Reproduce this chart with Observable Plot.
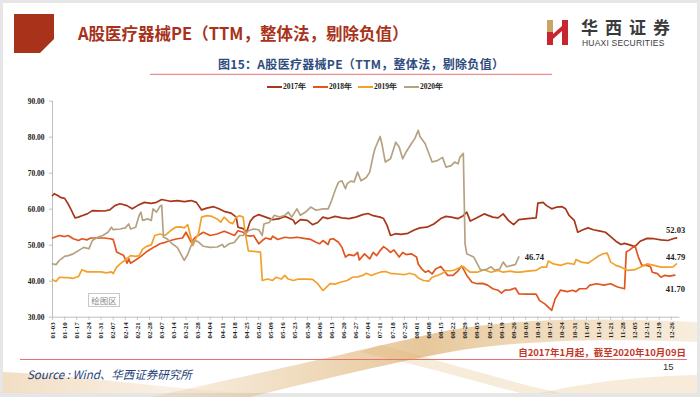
<!DOCTYPE html>
<html><head><meta charset="utf-8">
<script src="https://cdn.jsdelivr.net/npm/d3@7"></script>
<script src="https://cdn.jsdelivr.net/npm/@observablehq/plot@0.6"></script>
<style>
html,body{margin:0;padding:0;background:#e6e6e6;}
#page{position:relative;width:700px;height:397px;overflow:hidden;background:#e6e6e6;font-family:"Noto Sans CJK SC","Noto Sans",sans-serif;}
#slide{position:absolute;left:3px;top:3px;width:694px;height:390px;background:#fff;}
.abs{position:absolute;white-space:nowrap;}
#chart{position:absolute;left:0;top:0;}
.leg{position:absolute;top:82px;height:10px;font-family:"Liberation Serif",serif;font-weight:bold;font-size:7.5px;color:#222;line-height:10px;white-space:nowrap;}
.leg i{position:absolute;top:4px;height:2px;width:15px;}
.leg span{white-space:nowrap;}
</style></head><body>
<div id="page">
  <div id="slide"></div>
  <svg class="abs" style="left:0;top:0" width="700" height="397">
    <defs>
      <linearGradient id="g1" x1="0" x2="1" y1="0" y2="0">
        <stop offset="0" stop-color="#d9a45a" stop-opacity="0.15"/>
        <stop offset="0.5" stop-color="#d39a48" stop-opacity="0.55"/>
        <stop offset="1" stop-color="#e3b97a" stop-opacity="0.25"/>
      </linearGradient>
      <linearGradient id="g2" x1="0" x2="1" y1="0" y2="0">
        <stop offset="0" stop-color="#e2b57a" stop-opacity="0.45"/>
        <stop offset="1" stop-color="#e8c495" stop-opacity="0.15"/>
      </linearGradient>
    </defs>
    <path d="M150 397 C 300 365, 380 345, 450 330 C 520 318, 600 318, 697 322 L 697 342 C 600 338, 520 340, 450 352 C 380 365, 300 385, 250 397 Z" fill="url(#g1)"/>
    <path d="M3 372 C 80 376, 170 388, 240 393 L 3 393 Z" fill="url(#g2)"/>
    <path d="M380 345 C 440 360, 500 380, 560 393 L 520 393 C 470 380, 420 365, 360 352 Z" fill="#e0b06a" fill-opacity="0.25"/>
    <path d="M540 393 C 600 380, 650 376, 697 375 L 697 393 Z" fill="#e6bd85" fill-opacity="0.3"/>
    <path d="M14 14 L54 14 L54 39 L40 53 L14 53 Z" fill="#a8321a"/>
    <rect x="547" y="20" width="6" height="12" fill="#c9a467"/>
    <rect x="547" y="32" width="6" height="13" fill="#c8262e"/>
    <rect x="562" y="20" width="6" height="25" fill="#c8262e"/>
    <path d="M553 34 L562 26 L562 31 L553 39 Z" fill="#c8262e"/>
    <line x1="150" x2="552" y1="74.3" y2="74.3" stroke="#e57373" stroke-width="1"/>
    <line x1="20" x2="687" y1="359.5" y2="359.5" stroke="#e57373" stroke-width="1"/>
  </svg>
  <div id="chart"></div>
  <div class="abs" style="left:78px;top:21px;font-size:16.5px;font-weight:700;color:#a8321a;line-height:24px;">A股医疗器械PE（TTM，整体法，剔除负值）</div>
  <div class="abs" style="left:581px;top:18px;font-family:'Noto Sans CJK SC';font-size:17px;font-weight:700;color:#3a3a3a;letter-spacing:7px;line-height:18px;">华西证券</div>
  <div class="abs" style="left:582px;top:38px;font-family:'Liberation Sans',sans-serif;font-size:8.5px;color:#3a3a3a;letter-spacing:0.2px;line-height:10px;">HUAXI SECURITIES</div>
  <div class="abs" style="left:218px;top:55px;font-size:12px;font-weight:700;color:#2e4c7e;letter-spacing:0.3px;line-height:18px;">图15：A股医疗器械PE（TTM，整体法，剔除负值）</div>
  <div id="legend"></div>
  <div class="abs" style="left:88px;top:293px;width:30px;height:12px;border:1px solid #c8c8c8;background:#fff;color:#8a8a8a;font-size:8.5px;line-height:12px;text-align:center;">绘图区</div>
  <div class="abs" style="right:14px;top:345px;font-size:9.5px;font-weight:700;color:#c0392b;line-height:14px;">自2017年1月起，截至2020年10月09日</div>
  <div class="abs" style="left:663px;top:361px;font-family:'Liberation Sans',sans-serif;font-size:9.5px;color:#333;line-height:12px;">15</div>
  <div class="abs" style="left:27px;top:366px;font-size:11.5px;font-style:italic;color:#1f3f7a;line-height:16px;">Source : Wind、华西证券研究所</div>
</div>
<script>
// ---- data (day of year, PE) ----
const tickLabels = ["01-03","01-10","01-17","01-24","01-31","02-07","02-14","02-21","02-28","03-07","03-14","03-21","03-28","04-04","04-11","04-18","04-25","05-02","05-09","05-16","05-23","05-30","06-06","06-13","06-20","06-27","07-04","07-11","07-18","07-25","08-01","08-08","08-15","08-22","08-29","09-05","09-12","09-19","09-26","10-03","10-10","10-17","10-24","10-31","11-07","11-14","11-21","11-28","12-05","12-12","12-19","12-26"];
const yTicks = [30,40,50,60,70,80,90];
const years = ["2017年","2018年","2019年","2020年"];
const colors = ["#a8361b","#e0561e","#f2a12b","#b5a283"];

const pe2017 = [[3,63.8],[4,64.3],[6,63.8],[8,63.2],[10,63.0],[12,61.5],[14,59.6],[16,57.6],[18,57.8],[20,58.2],[23,58.7],[26,59.6],[33,59.5],[36,59.8],[39,61.0],[42,61.5],[46,61.0],[49,60.1],[52,61.0],[56,61.9],[60,61.6],[63,61.9],[66,62.7],[71,62.2],[75,62.4],[79,62.1],[83,62.4],[86,61.9],[89,59.8],[92,60.3],[96,60.7],[99,60.1],[102,59.4],[106,58.9],[109,57.8],[110,55.0],[113,54.6],[115,53.6],[117,56.6],[119,57.8],[122,58.5],[126,57.8],[130,57.1],[134,57.4],[137,58.0],[139,57.6],[142,56.9],[143,55.9],[146,57.1],[150,56.9],[153,55.7],[156,56.3],[159,57.8],[162,57.4],[166,58.0],[170,57.6],[174,57.4],[178,57.8],[182,58.5],[185,58.8],[188,58.2],[192,57.8],[194,57.4],[196,55.5],[198,52.7],[201,53.2],[204,53.0],[208,53.3],[212,54.3],[215,54.8],[219,55.0],[223,55.9],[227,57.4],[230,58.0],[233,57.8],[237,57.4],[240,58.2],[242,59.2],[244,56.7],[247,57.4],[252,58.7],[257,57.8],[260,57.6],[263,58.7],[266,56.9],[269,55.7],[272,57.1],[277,57.4],[282,57.6],[283,61.7],[286,61.9],[288,61.0],[291,60.1],[294,60.6],[297,60.7],[299,60.1],[301,58.3],[304,56.9],[306,53.6],[309,54.3],[312,54.8],[315,54.3],[319,53.9],[322,53.6],[325,52.4],[328,51.1],[331,50.2],[333,50.5],[336,50.1],[339,49.6],[342,51.1],[346,51.9],[350,51.8],[354,51.5],[358,51.3],[361,51.8],[363,52.03]];

const pe2018 = [[3,52.0],[7,52.7],[10,52.4],[12,52.7],[15,51.8],[18,51.3],[20,51.8],[23,51.5],[25,52.0],[33,52.0],[36,51.8],[38,51.6],[39,49.9],[40,48.1],[42,47.6],[44,47.2],[46,45.0],[47,46.2],[48,45.0],[51,45.9],[54,46.9],[57,48.1],[60,49.0],[62,49.6],[65,50.4],[68,50.8],[71,51.3],[75,51.8],[78,52.0],[80,53.6],[81,52.7],[83,50.8],[85,52.0],[87,52.7],[90,53.6],[94,52.7],[98,53.1],[102,53.9],[105,53.3],[108,52.7],[110,54.0],[113,53.6],[115,52.7],[117,52.5],[119,52.7],[122,50.4],[124,51.3],[126,52.0],[129,51.6],[130,52.5],[133,51.6],[137,52.2],[140,52.0],[144,52.2],[148,51.9],[152,51.6],[155,50.8],[157,50.4],[159,51.3],[162,50.2],[163,51.6],[165,51.8],[168,50.8],[170,49.4],[172,46.7],[174,47.4],[177,47.1],[179,48.0],[180,45.9],[183,47.6],[186,46.2],[188,48.0],[190,47.1],[192,48.5],[194,49.6],[196,48.9],[198,48.0],[200,48.7],[203,46.7],[205,48.0],[207,47.4],[210,47.6],[213,46.7],[214,44.8],[216,43.4],[218,42.5],[220,42.9],[222,42.0],[224,43.4],[227,44.1],[229,42.9],[231,41.6],[234,41.6],[237,42.9],[239,44.2],[240,43.4],[242,41.6],[245,39.7],[248,39.3],[251,39.4],[254,38.9],[257,37.9],[260,37.5],[262,36.7],[264,37.5],[267,37.6],[270,38.1],[272,36.5],[277,36.4],[282,36.4],[284,34.6],[287,33.7],[289,32.8],[291,31.9],[293,35.1],[296,37.5],[300,37.1],[303,37.5],[305,37.1],[307,37.9],[311,37.9],[313,38.9],[317,39.3],[321,38.9],[325,39.3],[329,38.4],[333,37.9],[334,48.1],[336,48.7],[339,49.9],[341,46.7],[343,44.4],[346,44.4],[348,44.0],[349,42.5],[352,42.1],[354,41.1],[356,41.6],[359,41.4],[362,41.70]];

const pe2019 = [[3,40.4],[5,39.9],[7,41.1],[10,41.0],[12,41.0],[15,40.8],[18,41.3],[20,43.2],[23,42.6],[27,42.6],[31,42.6],[34,42.3],[37,42.6],[38,42.1],[40,43.9],[42,44.8],[45,45.9],[48,47.1],[51,46.9],[53,47.1],[55,48.9],[57,49.6],[60,50.1],[62,52.7],[65,53.1],[68,52.7],[71,54.0],[74,55.0],[77,55.1],[79,54.8],[81,55.7],[84,49.9],[86,52.2],[87,52.7],[89,57.8],[92,58.2],[95,58.0],[98,57.3],[100,56.4],[102,57.8],[105,56.4],[107,56.0],[109,57.8],[111,58.2],[113,57.8],[114,54.0],[116,48.4],[123,48.1],[124,40.2],[127,40.6],[130,40.2],[132,41.1],[135,40.6],[137,41.6],[139,40.6],[142,40.2],[145,40.6],[149,40.6],[153,40.5],[156,39.3],[159,37.4],[161,38.3],[163,39.3],[166,39.2],[169,39.7],[173,40.2],[176,41.1],[179,41.2],[182,41.6],[184,42.2],[187,41.6],[189,42.0],[192,42.5],[195,42.7],[198,42.2],[202,42.0],[206,41.8],[209,42.2],[212,41.8],[214,40.9],[217,40.2],[220,40.0],[222,41.1],[225,41.6],[228,42.2],[230,42.9],[233,42.9],[235,43.1],[238,43.8],[240,44.1],[242,43.2],[244,42.5],[248,42.5],[252,43.2],[256,42.5],[260,43.0],[263,42.5],[267,42.8],[270,42.5],[273,42.5],[277,42.8],[282,43.0],[285,43.9],[288,43.9],[289,45.6],[292,44.8],[296,44.4],[300,45.0],[304,44.7],[305,46.0],[308,45.3],[312,45.0],[315,46.0],[318,47.0],[321,47.7],[323,47.8],[325,45.3],[328,44.4],[331,43.9],[335,43.0],[339,43.2],[342,43.9],[346,44.8],[350,44.4],[354,43.9],[358,43.9],[361,44.0],[363,44.79]];

const pe2020 = [[3,44.8],[5,44.6],[7,45.8],[10,46.9],[12,47.1],[15,47.6],[18,48.5],[21,49.4],[24,49.0],[26,51.3],[29,52.2],[32,52.7],[35,53.6],[37,55.0],[38,54.3],[42,54.5],[45,54.8],[47,55.9],[48,54.5],[51,55.0],[53,58.3],[54,59.2],[55,56.9],[58,57.3],[60,56.9],[61,60.1],[63,59.2],[65,60.8],[66,61.1],[67,52.2],[69,51.8],[72,50.4],[75,49.4],[77,47.6],[79,45.8],[81,47.4],[83,49.9],[85,51.3],[87,51.0],[90,49.7],[94,49.4],[98,49.5],[101,50.2],[102,49.4],[105,50.4],[108,50.8],[111,52.7],[113,52.7],[116,54.0],[119,54.5],[122,54.3],[124,52.7],[125,55.9],[128,56.3],[131,58.3],[134,57.8],[137,58.3],[139,59.2],[141,57.8],[144,60.1],[146,58.3],[149,59.2],[152,60.6],[155,59.7],[159,60.1],[162,60.1],[164,62.4],[166,65.2],[168,67.5],[170,67.9],[172,65.7],[173,67.1],[175,67.8],[177,67.6],[179,70.3],[181,67.9],[184,68.8],[186,70.3],[188,74.9],[189,76.8],[192,80.2],[193,78.2],[195,73.1],[198,74.0],[201,78.6],[203,77.3],[205,74.0],[207,75.9],[210,78.2],[212,79.6],[214,81.9],[215,80.2],[218,78.2],[222,73.1],[225,73.5],[228,74.4],[230,71.7],[233,72.1],[235,73.1],[237,72.6],[238,74.4],[240,75.5],[241,50.4],[242,47.6],[246,46.7],[249,44.0],[250,43.1],[253,43.2],[256,44.0],[258,43.1],[261,43.4],[263,45.3],[265,44.0],[268,44.4],[270,44.6],[272,46.74]];

// ---- build ----
const seriesPts = [pe2017, pe2018, pe2019, pe2020];
const rows = seriesPts.flatMap((pts, i) => pts.map(([day, pe]) => ({year: years[i], day, pe})));
const dayOf = s => { const [m, d] = s.split("-").map(Number); return d3.utcDay.count(new Date(Date.UTC(2017,0,1)), new Date(Date.UTC(2017,m-1,d))) + 1; };
const tickDays = tickLabels.map(dayOf);
const labelOf = new Map(tickDays.map((d, i) => [d, tickLabels[i]]));
const last = i => { const p = seriesPts[i][seriesPts[i].length - 1]; return [{year: years[i], day: p[0], pe: p[1]}]; };
const endText = (i, dx, dy) => Plot.text(last(i), {x: "day", y: "pe", text: d => d.pe.toFixed(2), dx, dy, textAnchor: "start", fontSize: 8.5, fontWeight: "bold", fill: "#222"});

const chart = Plot.plot({
  width: 700, height: 397,
  marginLeft: 52, marginRight: 20.5, marginTop: 100.7, marginBottom: 80.3,
  style: {background: "transparent", fontFamily: "'Liberation Serif', serif", fontSize: "7px", fontWeight: "bold", color: "#222"},
  x: {domain: [3, 365], label: null},
  y: {domain: [30, 90], label: null},
  color: {domain: years, range: colors},
  marks: [
    Plot.ruleX([3], {y1: 30, y2: 90, stroke: "#bfbfbf"}),
    Plot.ruleY([30], {stroke: "#bfbfbf"}),
    Plot.axisY({ticks: yTicks, tickFormat: d3.format(".2f"), tickSize: 3, tickPadding: 5, stroke: "#bfbfbf", fontSize: 7.5}),
    Plot.axisX({ticks: tickDays, tickFormat: d => labelOf.get(d), tickRotate: -90, tickSize: 3, tickPadding: 2, stroke: "#bfbfbf"}),
    Plot.line(rows, {x: "day", y: "pe", z: "year", stroke: "year", strokeWidth: 1.7}),
    endText(0, -10.5, -7.5),
    endText(1, -9, 14),
    endText(2, -10.5, -7),
    endText(3, 6, 0)
  ]
});
document.getElementById("chart").appendChild(chart);

// legend
const legX = [[267, 283], [313, 329], [358, 374], [404, 420]];
const leg = document.getElementById("legend");
years.forEach((y, i) => {
  const d = document.createElement("div");
  d.className = "leg";
  d.style.left = legX[i][0] + "px";
  d.innerHTML = `<i style="left:0;background:${colors[i]}"></i><span style="position:absolute;left:${legX[i][1]-legX[i][0]}px">${y}</span>`;
  leg.appendChild(d);
});
</script>
</body></html>
